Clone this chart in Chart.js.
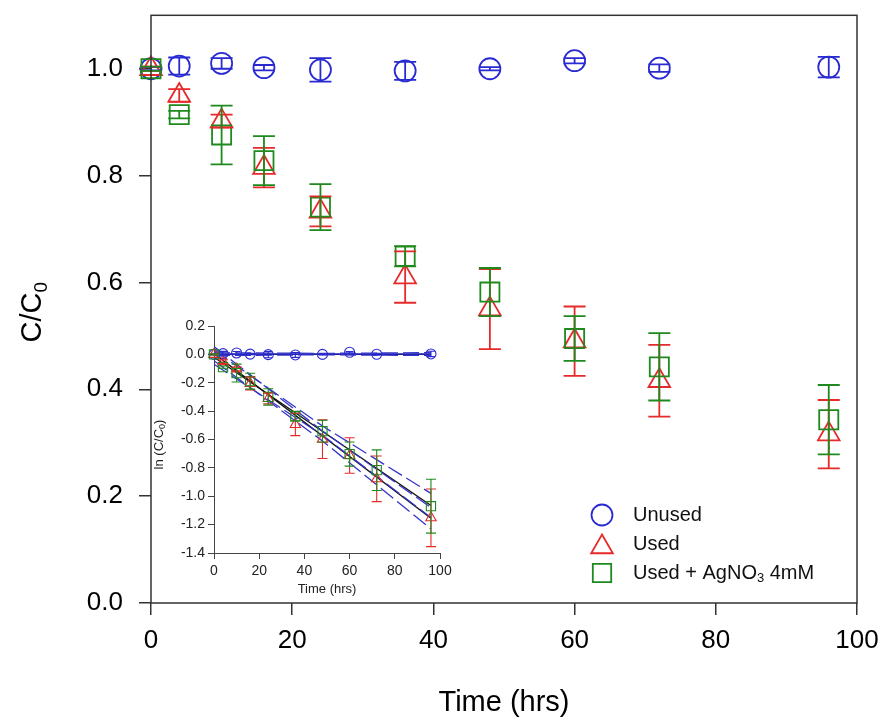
<!DOCTYPE html>
<html>
<head>
<meta charset="utf-8">
<script src="https://cdn.jsdelivr.net/npm/chart.js@4.4.0/dist/chart.umd.min.js"></script>
<style>
  body { margin: 0; background: #fff; }
  #wrap { position: relative; width: 887px; height: 721px; }
  #mainChart { position: absolute; left: 0; top: 0; }
  #insetChart { position: absolute; left: 150px; top: 310px; }
</style>
</head>
<body>
<div id="wrap">
  <canvas id="mainChart" width="887" height="721"></canvas>
  <canvas id="insetChart" width="310" height="290"></canvas>
</div>
<script>
// sampling times (hrs)
var times = [0, 4, 10, 16, 24, 36, 48, 60, 72, 96];

// main plot: C/C0
var unused    = [1.000, 1.005, 1.010, 1.002, 0.998, 0.996, 1.000, 1.015, 1.001, 1.003];
var unusedErr = [0.003, 0.016, 0.010, 0.005, 0.022, 0.017, 0.003, 0.005, 0.007, 0.019];
var used      = [1.000, 0.950, 0.902, 0.815, 0.733, 0.610, 0.550, 0.490, 0.416, 0.316];
var usedErr   = [0.004, 0.012, 0.012, 0.037, 0.028, 0.048, 0.075, 0.065, 0.067, 0.064];
var agno3     = [1.000, 0.914, 0.876, 0.828, 0.741, 0.649, 0.582, 0.495, 0.442, 0.343];
var agno3Err  = [0.004, 0.007, 0.055, 0.046, 0.043, 0.019, 0.045, 0.042, 0.063, 0.065];

// inset: ln(C/C0)
var lnUnused    = [0.000, 0.005, 0.010, 0.002, -0.002, -0.004, 0.000, 0.015, 0.001, 0.003];
var lnUnusedErr = [0.003, 0.016, 0.010, 0.005, 0.022, 0.017, 0.003, 0.005, 0.007, 0.019];
var lnUsed      = [0.000, -0.051, -0.103, -0.205, -0.311, -0.494, -0.598, -0.713, -0.877, -1.152];
var lnUsedErr   = [0.004, 0.013, 0.013, 0.045, 0.038, 0.079, 0.136, 0.125, 0.161, 0.203];
var lnAgno3     = [0.000, -0.090, -0.132, -0.189, -0.300, -0.436, -0.541, -0.703, -0.816, -1.070];
var lnAgno3Err  = [0.004, 0.008, 0.063, 0.056, 0.058, 0.034, 0.077, 0.085, 0.143, 0.190];

// regression lines and confidence bands
var fitX        = [0, 96];
var fitUnused   = [0.002, 0.002];
var fitUsed     = [0.005, -1.155];
var fitAgno3    = [-0.020, -1.065];
var bandX       = [0, 48, 96];
var bandUnusedHi = [0.012, 0.007, 0.012];
var bandUnusedLo = [-0.008, -0.003, -0.008];
var bandUsedHi  = [0.055, -0.540, -1.080];
var bandUsedLo  = [-0.045, -0.610, -1.230];
var bandAgHi    = [0.030, -0.505, -0.980];
var bandAgLo    = [-0.070, -0.570, -1.150];

var xTicks = [0, 20, 40, 60, 80, 100];

var FONT = "'Liberation Sans', Arial, sans-serif";
var BLUE = '#2a2ad2';
var RED = '#e62a2a';
var GREEN = '#1e8a1e';

function pts(xs, ys) {
    return xs.map(function (t, i) { return { x: t, y: ys[i] }; });
}

// draws text runs (for subscripts) centered on x,y
function drawRuns(ctx, runs, x, y) {
    var total = 0;
    runs.forEach(function (r) {
        ctx.font = r.size + 'px ' + FONT;
        r.w = ctx.measureText(r.text).width;
        total += r.w;
    });
    var cx = x - total / 2;
    ctx.textBaseline = 'middle';
    ctx.textAlign = 'left';
    runs.forEach(function (r) {
        ctx.font = r.size + 'px ' + FONT;
        ctx.fillText(r.text, cx, y + (r.dy || 0));
        cx += r.w;
    });
}

function drawMarker(ctx, style, r, x, y) {
    ctx.beginPath();
    if (style === 'circle') {
        ctx.arc(x, y, r, 0, Math.PI * 2);
    } else if (style === 'triangle') {
        var a = 0;
        for (var k = 0; k < 3; k++) {
            var px = x + Math.sin(a) * r, py = y - Math.cos(a) * r;
            if (k === 0) ctx.moveTo(px, py); else ctx.lineTo(px, py);
            a += Math.PI * 2 / 3;
        }
        ctx.closePath();
    } else {
        var s = r * Math.SQRT1_2;
        ctx.rect(x - s, y - s, 2 * s, 2 * s);
    }
    ctx.stroke();
}

var errorBars = {
    id: 'errorBars',
    afterDatasetsDraw: function (chart) {
        var ctx = chart.ctx, xs = chart.scales.x, ys = chart.scales.y;
        chart.data.datasets.forEach(function (ds) {
            if (!ds.errors) return;
            ctx.save();
            ctx.strokeStyle = ds.borderColor;
            ctx.lineWidth = ds.borderWidth;
            ds.data.forEach(function (p, i) {
                var e = ds.errors[i];
                var px = xs.getPixelForValue(p.x);
                var top = ys.getPixelForValue(p.y + e);
                var bot = ys.getPixelForValue(p.y - e);
                var c = ds.capHalf;
                ctx.beginPath();
                ctx.moveTo(px, top); ctx.lineTo(px, bot);
                ctx.moveTo(px - c, top); ctx.lineTo(px + c, top);
                ctx.moveTo(px - c, bot); ctx.lineTo(px + c, bot);
                ctx.stroke();
            });
            ctx.restore();
        });
    }
};

var mainDecor = {
    id: 'mainDecor',
    afterDraw: function (chart) {
        var ctx = chart.ctx, a = chart.chartArea;
        ctx.save();
        ctx.strokeStyle = '#333';
        ctx.lineWidth = 1.5;
        ctx.strokeRect(a.left, a.top, a.right - a.left, a.bottom - a.top);

        // y axis title with subscript
        ctx.fillStyle = '#000';
        ctx.translate(33, (a.top + a.bottom) / 2 + 3);
        ctx.rotate(-Math.PI / 2);
        drawRuns(ctx, [
            { text: 'C/C', size: 29 },
            { text: '0', size: 19, dy: 9 }
        ], 0, 0);
        ctx.restore();

        // legend
        ctx.save();
        ctx.fillStyle = '#111';
        ctx.lineWidth = 1.8;
        var items = [
            { style: 'circle', r: 10.5, color: BLUE, runs: [{ text: 'Unused', size: 20 }] },
            { style: 'triangle', r: 12.5, color: RED, runs: [{ text: 'Used', size: 20 }] },
            { style: 'rect', r: 13, color: GREEN, runs: [
                { text: 'Used + AgNO', size: 20 },
                { text: '3', size: 13, dy: 5 },
                { text: ' 4mM', size: 20 }
            ] }
        ];
        items.forEach(function (it, i) {
            var y = 515 + i * 29;
            ctx.strokeStyle = it.color;
            drawMarker(ctx, it.style, it.r, 602, y + (it.style === 'triangle' ? 3 : 0));
            var x = 633;
            it.runs.forEach(function (r) {
                ctx.font = r.size + 'px ' + FONT;
                ctx.textBaseline = 'middle';
                ctx.textAlign = 'left';
                ctx.fillText(r.text, x, y + (r.dy || 0));
                x += ctx.measureText(r.text).width;
            });
        });
        ctx.restore();
    }
};

var insetDecor = {
    id: 'insetDecor',
    afterDraw: function (chart) {
        var ctx = chart.ctx, a = chart.chartArea;
        ctx.save();
        ctx.fillStyle = '#222';
        ctx.translate(9, (a.top + a.bottom) / 2 + 5);
        ctx.rotate(-Math.PI / 2);
        drawRuns(ctx, [
            { text: 'ln (C/C', size: 13 },
            { text: '0', size: 9, dy: 4 },
            { text: ')', size: 13 }
        ], 0, 0);
        ctx.restore();
    }
};

function markerSet(label, ys, errs, color, style, radius, width, cap, order) {
    return {
        label: label,
        data: pts(times, ys),
        errors: errs,
        capHalf: cap,
        borderColor: color,
        backgroundColor: 'rgba(0,0,0,0)',
        borderWidth: width,
        pointStyle: style,
        pointRadius: radius,
        showLine: false,
        clip: false,
        order: order
    };
}

function lineSet(xs, ys, color, dash, width) {
    return {
        data: pts(xs, ys),
        borderColor: color,
        borderWidth: width,
        borderDash: dash,
        pointRadius: 0,
        showLine: true,
        fill: false,
        order: 5
    };
}

// keep the plot box exactly where the axes are fixed
function noPadX(s) { s.paddingLeft = 0; s.paddingRight = 0; }
function noPadY(s) { s.paddingTop = 0; s.paddingBottom = 0; }

new Chart(document.getElementById('mainChart'), {
    type: 'scatter',
    data: {
        datasets: [
            markerSet('Unused', unused, unusedErr, BLUE, 'circle', 10.5, 1.8, 11, 3),
            markerSet('Used', used, usedErr, RED, 'triangle', 12.5, 1.8, 11, 2),
            markerSet('Used + AgNO3 4mM', agno3, agno3Err, GREEN, 'rect', 13.5, 1.8, 11, 1)
        ]
    },
    options: {
        responsive: false,
        animation: false,
        layout: { padding: { top: 13, right: 30, left: 0, bottom: 0 } },
        plugins: { legend: { display: false }, tooltip: { enabled: false } },
        scales: {
            x: {
                type: 'linear',
                min: 0,
                max: 100,
                afterBuildTicks: function (s) { s.ticks = xTicks.map(function (v) { return { value: v }; }); },
                ticks: { font: { size: 26, family: FONT }, color: '#000', padding: 10, maxRotation: 0 },
                grid: { drawOnChartArea: false, tickLength: 12, color: '#333', lineWidth: 1.5 },
                border: { display: false },
                title: { display: true, text: 'Time (hrs)', font: { size: 29, family: FONT }, color: '#000', padding: { top: 0, bottom: 1 } },
                afterFit: function (s) { s.height = 118; noPadX(s); }
            },
            y: {
                type: 'linear',
                min: 0,
                max: 1.1,
                ticks: {
                    stepSize: 0.2,
                    includeBounds: false,
                    font: { size: 26, family: FONT },
                    color: '#000',
                    padding: 16,
                    callback: function (v) { return v.toFixed(1); }
                },
                grid: { drawOnChartArea: false, tickLength: 12, color: '#333', lineWidth: 1.5 },
                border: { display: false },
                afterFit: function (s) { s.width = 151; noPadY(s); }
            }
        }
    },
    plugins: [errorBars, mainDecor]
});

var DASH_BLUE = '#3434c8';

new Chart(document.getElementById('insetChart'), {
    type: 'scatter',
    data: {
        datasets: [
            markerSet('Unused', lnUnused, lnUnusedErr, BLUE, 'circle', 5, 1.1, 4, 3),
            markerSet('Used', lnUsed, lnUsedErr, RED, 'triangle', 6, 1.1, 5, 2),
            markerSet('Used + AgNO3 4mM', lnAgno3, lnAgno3Err, GREEN, 'rect', 6.5, 1.1, 5, 1),
            lineSet(bandX, bandUnusedHi, DASH_BLUE, [16, 5], 1.3),
            lineSet(bandX, bandUnusedLo, DASH_BLUE, [16, 5], 1.3),
            lineSet(bandX, bandUsedHi, DASH_BLUE, [16, 5], 1.3),
            lineSet(bandX, bandUsedLo, DASH_BLUE, [16, 5], 1.3),
            lineSet(bandX, bandAgHi, DASH_BLUE, [16, 5], 1.3),
            lineSet(bandX, bandAgLo, DASH_BLUE, [16, 5], 1.3),
            lineSet(fitX, fitUnused, '#1c1ca8', [], 1.8),
            lineSet(fitX, fitUsed, '#111', [], 1.4),
            lineSet(fitX, fitAgno3, '#111', [], 1.4)
        ]
    },
    options: {
        responsive: false,
        animation: false,
        layout: { padding: { top: 16, right: 20, left: 0, bottom: 0 } },
        plugins: { legend: { display: false }, tooltip: { enabled: false } },
        scales: {
            x: {
                type: 'linear',
                min: 0,
                max: 100,
                afterBuildTicks: function (s) { s.ticks = xTicks.map(function (v) { return { value: v }; }); },
                ticks: { font: { size: 14, family: FONT }, color: '#222', padding: 4, maxRotation: 0 },
                grid: { drawOnChartArea: false, tickLength: 6, color: '#444', lineWidth: 1 },
                border: { display: true, color: '#444', width: 1 },
                title: { display: true, text: 'Time (hrs)', font: { size: 13, family: FONT }, color: '#222', padding: { top: 0, bottom: 3 } },
                afterFit: function (s) { s.height = 47; noPadX(s); }
            },
            y: {
                type: 'linear',
                min: -1.4,
                max: 0.2,
                ticks: {
                    stepSize: 0.2,
                    font: { size: 14, family: FONT },
                    color: '#222',
                    padding: 3,
                    callback: function (v) { return v.toFixed(1); }
                },
                grid: { drawOnChartArea: false, tickLength: 6, color: '#444', lineWidth: 1 },
                border: { display: true, color: '#444', width: 1 },
                afterFit: function (s) { s.width = 64; noPadY(s); }
            }
        }
    },
    plugins: [errorBars, insetDecor]
});
</script>
</body>
</html>
